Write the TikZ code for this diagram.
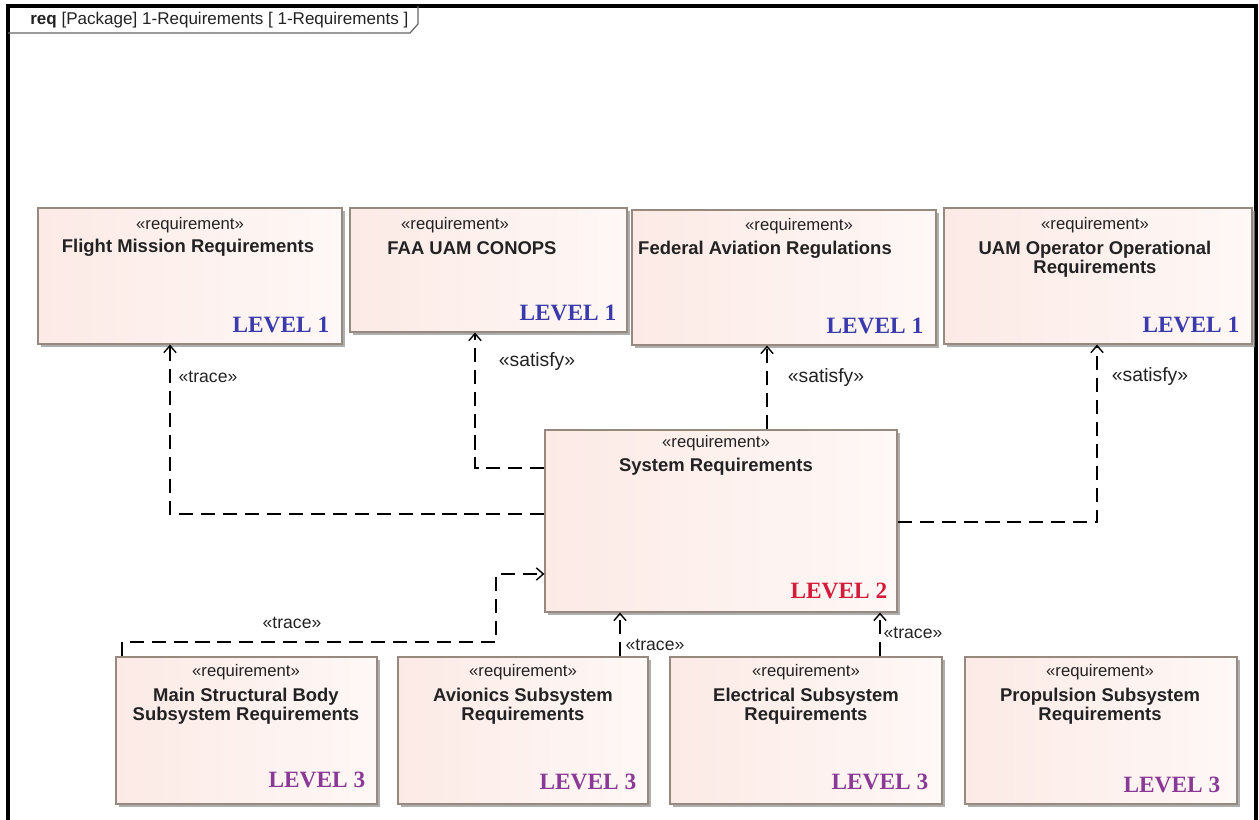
\documentclass[tikz,border=0pt]{standalone}
\usepackage{fontspec}
\setmainfont{Liberation Sans}
\newfontfamily\lvlfont{Liberation Serif}
\usetikzlibrary{arrows.meta,shadows,fit}

\definecolor{reqpink}{RGB}{252,234,230}
\definecolor{reqlight}{RGB}{254,248,246}
\definecolor{reqedge}{RGB}{150,138,128}
\definecolor{lvlblue}{RGB}{58,58,172}
\definecolor{lvlred}{RGB}{212,28,58}
\definecolor{lvlpurple}{RGB}{138,58,150}
\definecolor{txtdark}{RGB}{34,34,34}

\tikzset{
	reqbox/.style={draw=reqedge, line width=0.7pt, inner sep=0pt, left color=reqpink, right color=reqlight,
		drop shadow={shadow xshift=1.6pt, shadow yshift=-1.6pt, fill=black!45, opacity=0.7}},
	stereo/.style={font=\fontsize{9.5}{11}\selectfont, text=txtdark, inner sep=0pt},
	reqname/.style={font=\fontsize{10.5}{11}\selectfont\bfseries, text=txtdark, align=center, inner sep=0pt},
	level/.style={font=\fontsize{13.3}{15}\selectfont\lvlfont\bfseries, anchor=base east, inner sep=0pt},
	dep/.style={dash pattern=on 8pt off 4.5pt, line width=0.8pt, -{Straight Barb[length=4pt,width=7pt]}},
	deplabel/.style={font=\fontsize{10}{12}\selectfont, text=txtdark, inner sep=1pt},
	satlabel/.style={deplabel, font=\fontsize{11}{13}\selectfont}
}

\begin{document}
\begin{tikzpicture}[x=0.02cm, y=-0.02cm]
		\useasboundingbox (0,0) rectangle (1259,820);

		\draw[line width=1.8pt] (8,820) -- (8,6) -- (1256,6) -- (1256,820);
		\draw[black!60, line width=0.7pt] (8,33) -- (410,33) -- (418,24) -- (418,6);
		\node[anchor=west, inner sep=0pt, font=\fontsize{9.7}{11}\selectfont, text=txtdark] (hdr) at (30,20) {\textbf{req} [Package] 1-Requirements [ 1-Requirements ]};

		\node[reqbox, fit={(38,208) (342,344)}] (fm) {};
		\node[reqbox, fit={(350,208) (627,332)}] (faa) {};
		\node[reqbox, fit={(632,210) (936,345)}] (far) {};
		\node[reqbox, fit={(944,208) (1252,344)}] (uam) {};

		\node[reqbox, fit={(545,430) (897,612)}] (sys) {};

		\node[reqbox, fit={(116,657) (377,804)}] (msb) {};
		\node[reqbox, fit={(398,657) (648,804)}] (avi) {};
		\node[reqbox, fit={(670,657) (942,804)}] (ele) {};
		\node[reqbox, fit={(965,657) (1237,804)}] (pro) {};

		\node[stereo] (fm-st) at (190,225) {«requirement»};
		\node[reqname] (fm-nm) at (188,248) {Flight Mission Requirements};
		\node[level, text=lvlblue] (fm-lv) at ([shift={(-13,-12)}]fm.south east) {LEVEL 1};

		\node[stereo] (faa-st) at (455,225) {«requirement»};
		\node[reqname] (faa-nm) at (472,248) {FAA UAM CONOPS};
		\node[level, text=lvlblue] (faa-lv) at ([shift={(-11,-12)}]faa.south east) {LEVEL 1};

		\node[stereo] (far-st) at (799,226) {«requirement»};
		\node[reqname] (far-nm) at (765,250) {Federal Aviation Regulations};
		\node[level, text=lvlblue] (far-lv) at ([shift={(-13,-12)}]far.south east) {LEVEL 1};

		\node[stereo] (uam-st) at (1095,225) {«requirement»};
		\node[reqname] (uam-nm) at (1095,259) {UAM Operator Operational\\Requirements};
		\node[level, text=lvlblue] (uam-lv) at ([shift={(-13,-12)}]uam.south east) {LEVEL 1};

		\node[stereo] (sys-st) at (716,443) {«requirement»};
		\node[reqname] (sys-nm) at (716,467) {System Requirements};
		\node[level, text=lvlred] (sys-lv) at ([shift={(-10,-14)}]sys.south east) {LEVEL 2};

		\node[stereo] (msb-st) at (246,672) {«requirement»};
		\node[reqname] (msb-nm) at (246,706) {Main Structural Body\\Subsystem Requirements};
		\node[level, text=lvlpurple] (msb-lv) at ([shift={(-12,-17)}]msb.south east) {LEVEL 3};

		\node[stereo] (avi-st) at (523,672) {«requirement»};
		\node[reqname] (avi-nm) at (523,706) {Avionics Subsystem\\Requirements};
		\node[level, text=lvlpurple] (avi-lv) at ([shift={(-12,-15)}]avi.south east) {LEVEL 3};

		\node[stereo] (ele-st) at (806,672) {«requirement»};
		\node[reqname] (ele-nm) at (806,706) {Electrical Subsystem\\Requirements};
		\node[level, text=lvlpurple] (ele-lv) at ([shift={(-14,-15)}]ele.south east) {LEVEL 3};

		\node[stereo] (pro-st) at (1100,672) {«requirement»};
		\node[reqname] (pro-nm) at (1100,706) {Propulsion Subsystem\\Requirements};
		\node[level, text=lvlpurple] (pro-lv) at ([shift={(-17,-12)}]pro.south east) {LEVEL 3};

		\draw[dep] (sys.west |- 0,514) -| (fm.south -| 170,0);
		\draw[dep] (sys.west |- 0,468) -| (faa.south -| 475,0);
		\draw[dep] (sys.north -| 767,0) -- (far.south -| 767,0);
		\draw[dep] (sys.east |- 0,522) -| (uam.south -| 1097,0);

		\draw[dep] (msb.north -| 122,0) |- (496,642) |- (sys.west |- 0,574);
		\draw[dep] (avi.north -| 620,0) -- (sys.south -| 620,0);
		\draw[dep] (ele.north -| 880,0) -- (sys.south -| 880,0);

		\node[deplabel] (fm-tr) at (208,377) {«trace»};
		\node[satlabel] (faa-sat) at (537,362) {«satisfy»};
		\node[satlabel] (far-sat) at (826,378) {«satisfy»};
		\node[satlabel] (uam-sat) at (1150,377) {«satisfy»};
		\node[deplabel] (msb-tr) at (292,623) {«trace»};
		\node[deplabel] (avi-tr) at (655,645) {«trace»};
		\node[deplabel] (ele-tr) at (913,633) {«trace»};
	\end{tikzpicture}
\end{document}
